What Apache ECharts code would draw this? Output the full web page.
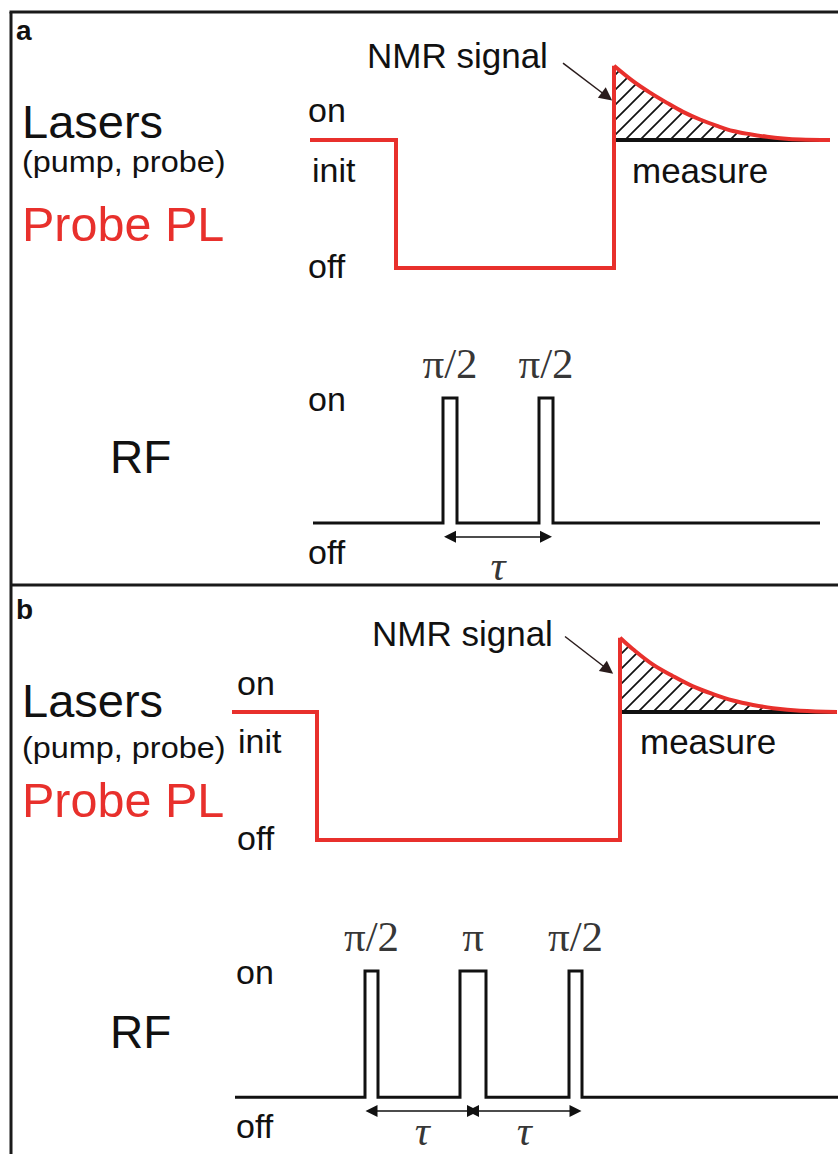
<!DOCTYPE html>
<html><head><meta charset="utf-8">
<script src="https://cdn.jsdelivr.net/npm/echarts@6/dist/echarts.min.js"></script>
<style>html,body{margin:0;padding:0;background:#fff}#c{width:838px;height:1154px}</style>
</head><body><div id="c"></div>
<script>
// ---------- data (time in arbitrary units, level: off = 0, on = 1) ----------
// Panel a
const laserA_t = [0.2, 8.8, 8.8, 30.6, 30.6];
const laserA_v = [1, 1, 0, 0, 1.58];
const fidA_t = [30.6, 32.5, 34.2, 35.9, 37.5, 39.2, 40.9, 42.5, 44.2, 45.9, 47.5, 49.2, 52.2];
const fidA_v = [1.58, 1.46, 1.37, 1.29, 1.22, 1.16, 1.11, 1.07, 1.045, 1.025, 1.012, 1.004, 1.0];
const rfA_span = [0.5, 51.2];
const rfA_pulseStart = [13.5, 23.1];
const rfA_pulseEnd = [14.9, 24.5];
const rfA_labels = ['π/2', 'π/2'];
const nmrArrowA = [[25.5, 1.60], [29.9, 1.34]];
// Panel b
const laserB_t = [0, 8.5, 8.5, 38.8, 38.8];
const laserB_v = [1, 1, 0, 0, 1.58];
const fidB_t = [38.8, 40.1, 42.1, 44.1, 46.1, 48.1, 50.1, 52.1, 54.1, 56.8, 60.5];
const fidB_v = [1.58, 1.49, 1.37, 1.28, 1.20, 1.14, 1.09, 1.055, 1.03, 1.01, 1.0];
const rfB_span = [0.3, 60.6];
const rfB_pulseStart = [13.3, 22.8, 33.7];
const rfB_pulseEnd = [14.6, 25.4, 35.0];
const rfB_labels = ['π/2', 'π', 'π/2'];
const nmrArrowB = [[33.3, 1.59], [37.6, 1.33]];
const tauLevel = -0.11;
const tauLabel = 'τ';

// ---------- helpers ----------
const RED = '#e8302c', INK = '#111111';
const SANS = '"Liberation Sans", Arial, sans-serif';
const SERIF = '"Liberation Serif", "Times New Roman", serif';
const zip = (a, b) => a.map((x, i) => [x, b[i]]);
function rfSteps(span, st, en) {
  const d = [[span[0], 0]];
  st.forEach((s, i) => { d.push([s, 0], [s, 1], [en[i], 1], [en[i], 0]); });
  d.push([span[1], 0]);
  return d;
}
const centers = (st, en) => st.map((s, i) => (s + en[i]) / 2);

function hatch() {
  const c = document.createElement('canvas');
  const n = 15; c.width = n; c.height = n;
  const g = c.getContext('2d');
  g.strokeStyle = '#111'; g.lineWidth = 1.7;
  g.beginPath();
  g.moveTo(-2, n + 2); g.lineTo(n + 2, -2);
  g.moveTo(-2, 2); g.lineTo(2, -2);
  g.moveTo(n - 2, n + 2); g.lineTo(n + 2, n - 2);
  g.stroke();
  return c;
}
const pattern = { image: hatch(), repeat: 'repeat' };

function panel(gL, gR, laserT, laserV, fidT, fidV, span, st, en, labels, arrow, tauDist) {
  const cs = centers(st, en);
  const taus = [];
  for (let i = 0; i < cs.length - 1; i++) taus.push([cs[i], cs[i + 1]]);
  return [
    { type: 'line', xAxisIndex: gL, yAxisIndex: gL, z: 2, clip: false, silent: true,
      data: [[fidT[0], 1], [fidT[fidT.length - 1], 1]], showSymbol: false,
      lineStyle: { color: INK, width: 4 } },
    { type: 'line', xAxisIndex: gL, yAxisIndex: gL, z: 3, clip: false, silent: true,
      data: zip(fidT, fidV), showSymbol: false, smooth: 0.35,
      lineStyle: { color: RED, width: 4 },
      areaStyle: { origin: 1, color: pattern, opacity: 1 } },
    { type: 'line', xAxisIndex: gL, yAxisIndex: gL, z: 4, clip: false, silent: true,
      data: zip(laserT, laserV), showSymbol: false,
      lineStyle: { color: RED, width: 4, join: 'miter', cap: 'butt' },
      markLine: { silent: true, animation: false, symbol: ['none', 'triangle'], symbolSize: 13,
        label: { show: false },
        lineStyle: { color: '#2a1c1c', width: 1.5, type: 'solid' },
        data: [[{ coord: arrow[0] }, { coord: arrow[1] }]] } },
    { type: 'line', xAxisIndex: gR, yAxisIndex: gR, z: 3, clip: false, silent: true,
      data: rfSteps(span, st, en), showSymbol: false,
      lineStyle: { color: INK, width: 3, join: 'miter' },
      markLine: { silent: true, animation: false, symbol: ['triangle', 'triangle'], symbolSize: 12,
        label: { show: false },
        lineStyle: { color: INK, width: 1.5, type: 'solid' },
        data: taus.map(([a, b]) => [{ coord: [a, tauLevel] }, { coord: [b, tauLevel] }]) } },
    { type: 'scatter', xAxisIndex: gR, yAxisIndex: gR, symbolSize: 0, silent: true,
      data: cs.map((c, i) => ({ value: [c, 1], name: labels[i] })),
      label: { show: true, formatter: '{b}', position: 'top', distance: 13,
        fontFamily: SERIF, fontSize: 43, color: '#000' } },
    { type: 'scatter', xAxisIndex: gR, yAxisIndex: gR, symbolSize: 0, silent: true,
      data: taus.map(([a, b]) => ({ value: [(a + b) / 2, tauLevel], name: tauLabel })),
      label: { show: true, formatter: '{b}', position: 'bottom', distance: tauDist,
        fontFamily: SERIF, fontStyle: 'italic', fontSize: 42, color: '#000' } }
  ];
}

function txt(text, x, y, size, opts) {
  opts = opts || {};
  return { type: 'text', x: x, y: y, scaleX: opts.sx || 1, silent: true, z: 10,
    style: { text: text, fontSize: size, fontFamily: SANS, fontWeight: opts.bold ? 'bold' : 'normal',
      fill: opts.fill || INK, verticalAlign: 'middle', align: 'left' } };
}
function hline(x1, y1, x2, y2) {
  return { type: 'line', silent: true, z: 10, shape: { x1, y1, x2, y2 },
    style: { stroke: '#1a1a1a', lineWidth: 3 } };
}

const chart = echarts.init(document.getElementById('c'), null, { renderer: 'svg' });
const hidden = { show: false };
chart.setOption({
  animation: false,
  backgroundColor: '#ffffff',
  grid: [
    { left: 308, top: 12, width: 530, height: 320 },
    { left: 308, top: 335.5, width: 530, height: 250 },
    { left: 232, top: 584, width: 606, height: 320 },
    { left: 232, top: 908, width: 606, height: 227 }
  ],
  xAxis: [
    { type: 'value', gridIndex: 0, min: 0, max: 53, ...hidden },
    { type: 'value', gridIndex: 1, min: 0, max: 53, ...hidden },
    { type: 'value', gridIndex: 2, min: 0, max: 60.6, ...hidden },
    { type: 'value', gridIndex: 3, min: 0, max: 60.6, ...hidden }
  ],
  yAxis: [
    { type: 'value', gridIndex: 0, min: -0.5, max: 2, ...hidden },
    { type: 'value', gridIndex: 1, min: -0.5, max: 1.5, ...hidden },
    { type: 'value', gridIndex: 2, min: -0.5, max: 2, ...hidden },
    { type: 'value', gridIndex: 3, min: -0.3, max: 1.5, ...hidden }
  ],
  series: [
    ...panel(0, 1, laserA_t, laserA_v, fidA_t, fidA_v, rfA_span, rfA_pulseStart, rfA_pulseEnd, rfA_labels, nmrArrowA, 8),
    ...panel(2, 3, laserB_t, laserB_v, fidB_t, fidB_v, rfB_span, rfB_pulseStart, rfB_pulseEnd, rfB_labels, nmrArrowB, -1)
  ],
  graphic: [
    hline(9.5, 12, 838, 12), hline(11, 12, 11, 1154), hline(11, 585, 838, 585),
    // panel a
    txt('a', 16, 30, 28, { bold: true }),
    txt('Lasers', 22, 121.5, 47),
    txt('(pump, probe)', 22, 162, 30, { sx: 1.08 }),
    txt('Probe PL', 22, 224, 48.5, { fill: RED }),
    txt('on', 308, 110, 34), txt('init', 312, 170, 34), txt('off', 308, 266, 34),
    txt('NMR signal', 367, 55, 35), txt('measure', 632, 170, 35),
    txt('on', 308, 399, 34), txt('off', 308, 552, 34),
    txt('RF', 110, 457, 46),
    // panel b
    txt('b', 16, 609, 28, { bold: true }),
    txt('Lasers', 22, 700.5, 47),
    txt('(pump, probe)', 22, 748, 30, { sx: 1.08 }),
    txt('Probe PL', 22, 800, 48.5, { fill: RED }),
    txt('on', 237, 683, 34), txt('init', 238, 741, 34), txt('off', 237, 838, 34),
    txt('NMR signal', 372, 633, 35), txt('measure', 640, 741, 35),
    txt('on', 236, 972, 34), txt('off', 236, 1126, 34),
    txt('RF', 110, 1032, 46)
  ]
});
</script></body></html>
